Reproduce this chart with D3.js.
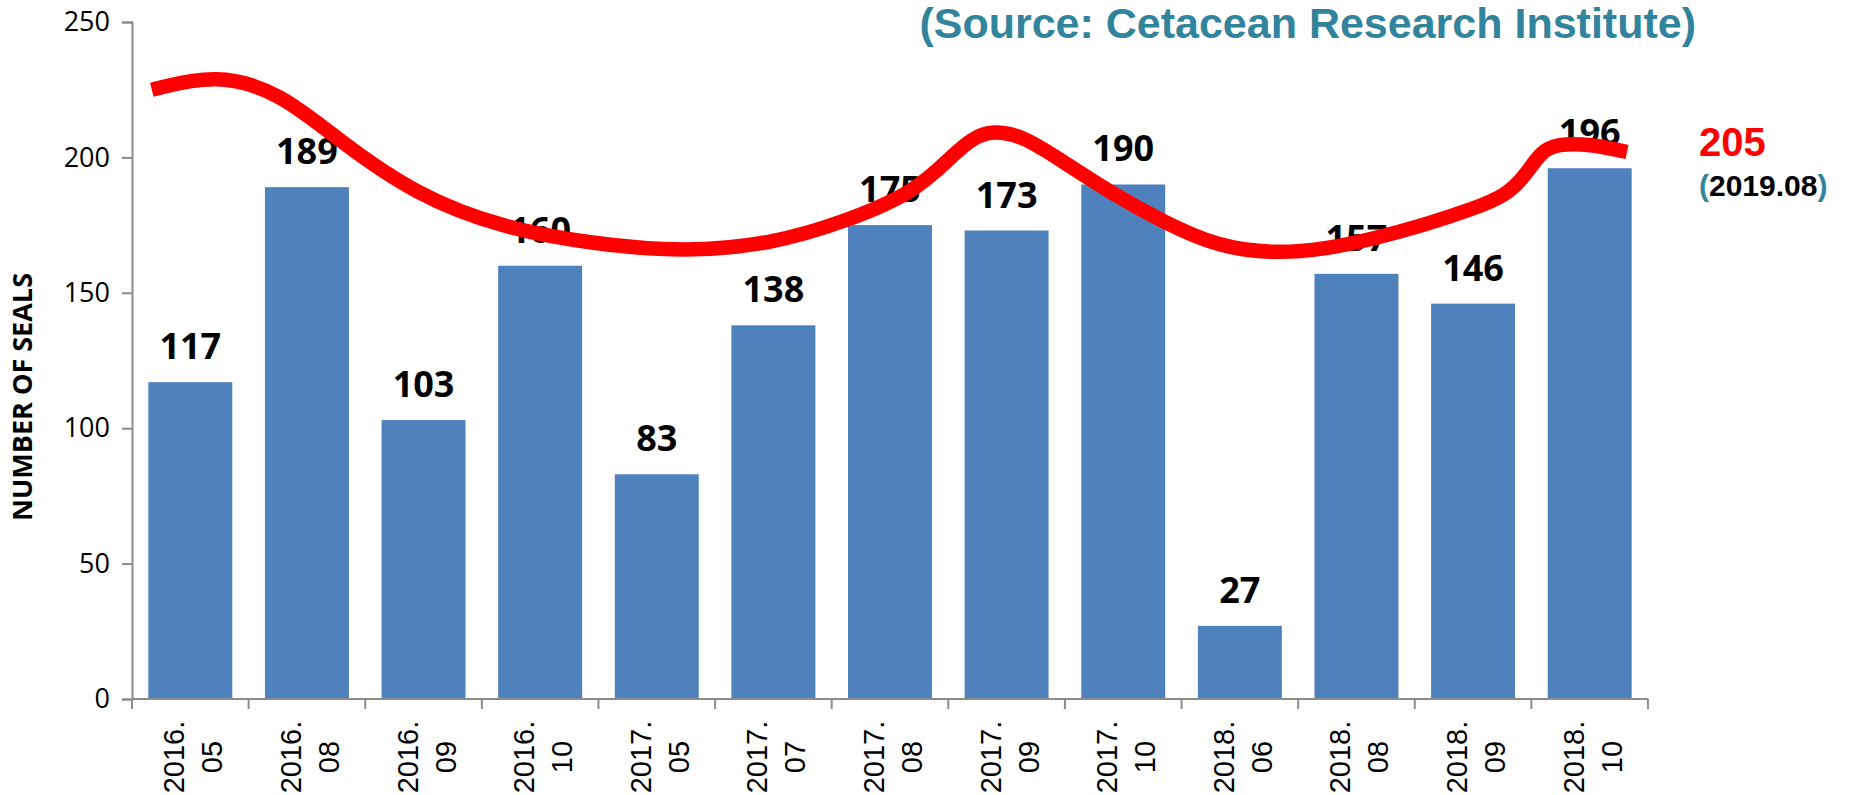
<!DOCTYPE html>
<html>
<head>
<meta charset="utf-8">
<script src="https://cdn.jsdelivr.net/npm/d3@7"></script>
<style>
  html, body { margin: 0; padding: 0; background: #fff; }
  svg { display: block; }
</style>
</head>
<body>
<div id="chart"></div>
<script>
// survey dates and seal counts
const categories = ["2016.05", "2016.08", "2016.09", "2016.10", "2017.05", "2017.07", "2017.08",
  "2017.09", "2017.10", "2018.06", "2018.08", "2018.09", "2018.10"];
const counts = [117, 189, 103, 160, 83, 138, 175, 173, 190, 27, 157, 146, 196];
const yTicks = [0, 50, 100, 150, 200, 250];

// red trend curve (position in category units, value)
const trendPos = [-0.33, 0.23, 0.77, 1.28, 1.94, 2.67, 3.46, 4.25, 4.98, 5.6, 6.21, 6.52, 6.7, 6.88,
  7.13, 7.43, 7.89, 8.35, 8.81, 9.29, 9.72, 10.15, 10.58, 11.0, 11.29, 11.46, 11.58, 11.72, 12.0, 12.32];
const trendVals = [225, 231, 224, 206, 186, 174, 168, 165, 168, 176, 187, 200, 207, 210,
  208, 200, 187, 176, 167, 164.5, 166, 170, 175, 181, 186, 194, 202, 205, 205, 202];

const latestValue = 205;
const latestDate = "2019.08";
const sourceText = "(Source: Cetacean Research Institute)";
const yTitle = "NUMBER OF SEALS";

const W = 1849, H = 795;
const plot = { left: 132, right: 1648, top: 22, bottom: 699 };

const svg = d3.select("#chart").append("svg")
  .attr("width", W).attr("height", H)
  .attr("viewBox", `0 0 ${W} ${H}`);

svg.append("rect").attr("width", W).attr("height", H).attr("fill", "#fff");

const x = d3.scaleBand().domain(categories)
  .range([plot.left, plot.right])
  .paddingInner(0.28).paddingOuter(0.14);
const y = d3.scaleLinear().domain([0, 250]).range([plot.bottom, plot.top]);
const xPos = d3.scaleLinear().domain([0, categories.length - 1])
  .range([x(categories[0]) + x.bandwidth() / 2, x(categories[categories.length - 1]) + x.bandwidth() / 2]);

const AXIS = "#8c8c8c";

// y axis
svg.append("g")
  .attr("transform", `translate(${plot.left},0)`)
  .call(d3.axisLeft(y).tickValues(yTicks).tickSize(10).tickPadding(12))
  .call(g => g.select(".domain").attr("stroke", AXIS).attr("stroke-width", 2))
  .call(g => g.selectAll(".tick line").attr("stroke", AXIS).attr("stroke-width", 2))
  .call(g => g.selectAll(".tick text")
    .attr("fill", "#000").attr("font-family", "'Open Sans', sans-serif").attr("font-size", 27));

// bars
svg.append("g").selectAll("rect").data(counts).join("rect")
  .attr("x", (d, i) => x(categories[i]))
  .attr("y", d => y(d))
  .attr("width", x.bandwidth())
  .attr("height", d => y(0) - y(d))
  .attr("fill", "#4f81bd");

// x axis line and ticks at band edges
const edges = categories.map(c => x(c) - x.step() * x.paddingInner() / 2).concat([plot.right]);
svg.append("line")
  .attr("x1", plot.left).attr("x2", plot.right)
  .attr("y1", y(0)).attr("y2", y(0))
  .attr("stroke", AXIS).attr("stroke-width", 2);
svg.append("g").selectAll("line").data(edges).join("line")
  .attr("x1", d => d).attr("x2", d => d)
  .attr("y1", y(0)).attr("y2", y(0) + 10)
  .attr("stroke", AXIS).attr("stroke-width", 2);

// category labels, two lines, rotated
const catLabels = svg.append("g").selectAll("text").data(categories).join("text")
  .attr("transform", d => `translate(${x(d) + x.bandwidth() / 2 - 6},757) rotate(-90)`)
  .attr("text-anchor", "middle")
  .attr("font-family", "'Liberation Sans', Arial, sans-serif")
  .attr("font-size", 29)
  .attr("fill", "#000");
catLabels.append("tspan").attr("x", 0).attr("y", 0).text(d => d.slice(0, 5));
catLabels.append("tspan").attr("x", 0).attr("y", 38).text(d => d.slice(5));

// value labels
svg.append("g").selectAll("text").data(counts).join("text")
  .attr("x", (d, i) => x(categories[i]) + x.bandwidth() / 2)
  .attr("y", d => y(d) - 23)
  .attr("text-anchor", "middle")
  .attr("font-family", "'Open Sans', sans-serif")
  .attr("font-weight", 700)
  .attr("font-size", 36)
  .attr("fill", "#000")
  .text(d => d);

// trend curve
const trend = trendPos.map((p, i) => [p, trendVals[i]]);
svg.append("path")
  .datum(trend)
  .attr("d", d3.line().x(d => xPos(d[0])).y(d => y(d[1])).curve(d3.curveBasis))
  .attr("fill", "none")
  .attr("stroke", "#ff0000")
  .attr("stroke-width", 14.5);

// y axis title
svg.append("text")
  .attr("transform", "translate(32,397) rotate(-90)")
  .attr("text-anchor", "middle")
  .attr("font-family", "'Open Sans', sans-serif")
  .attr("font-weight", 700)
  .attr("font-size", 27)
  .attr("fill", "#000")
  .text(yTitle);

// source
svg.append("text")
  .attr("x", 1696).attr("y", 38)
  .attr("text-anchor", "end")
  .attr("font-family", "'Liberation Sans', Arial, sans-serif")
  .attr("font-weight", 700)
  .attr("font-size", 43)
  .attr("fill", "#31849b")
  .text(sourceText);

// latest value annotation
svg.append("text")
  .attr("x", 1699).attr("y", 156)
  .attr("font-family", "'Liberation Sans', Arial, sans-serif")
  .attr("font-weight", 700)
  .attr("font-size", 40)
  .attr("fill", "#ff0000")
  .text(latestValue);

const dateLabel = svg.append("text")
  .attr("x", 1699).attr("y", 196)
  .attr("font-family", "'Liberation Sans', Arial, sans-serif")
  .attr("font-weight", 700)
  .attr("font-size", 30);
dateLabel.append("tspan").attr("fill", "#31849b").text("(");
dateLabel.append("tspan").attr("fill", "#000").text(latestDate);
dateLabel.append("tspan").attr("fill", "#31849b").text(")");
</script>
</body>
</html>
